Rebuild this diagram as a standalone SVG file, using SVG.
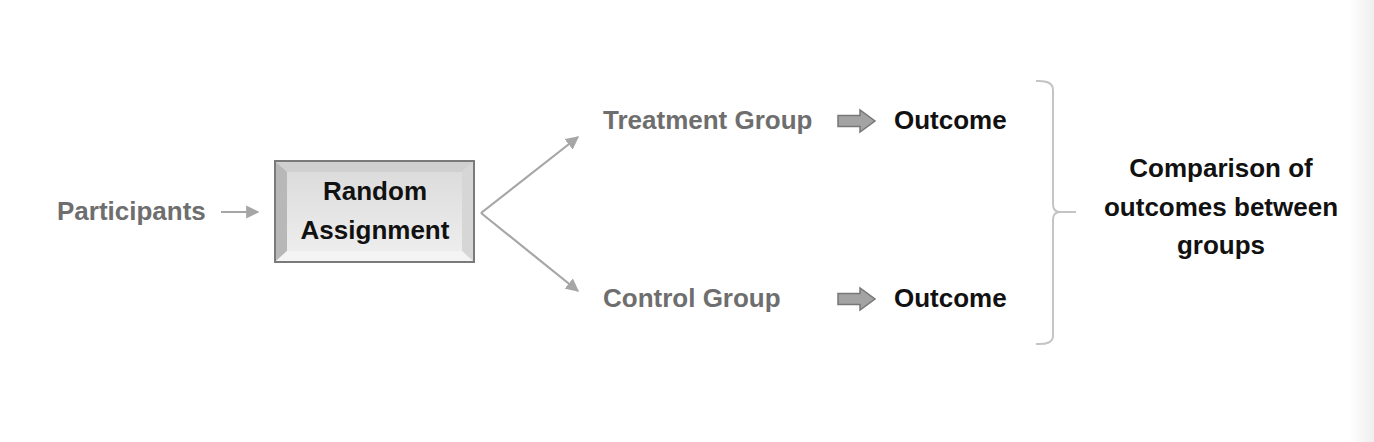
<svg xmlns="http://www.w3.org/2000/svg" width="1374" height="442" viewBox="0 0 1374 442">
<defs>
<style>
.t{font-family:"Liberation Sans",Arial,sans-serif;font-weight:bold;font-size:26px}
.g{fill:#6e6e6e}
.k{fill:#111}
.c{stroke:#a6a6a6;stroke-width:2.2;fill:none}
.blk{fill:#a3a3a3;stroke:#777;stroke-width:1.5}
</style>
<marker id="ah" viewBox="0 0 10 10" refX="9" refY="5" markerWidth="6" markerHeight="6" orient="auto" markerUnits="strokeWidth">
<path d="M0,0 L10,5 L0,10 Z" fill="#a6a6a6"/>
</marker>
<linearGradient id="face" x1="0" y1="0" x2="0" y2="1">
<stop offset="0" stop-color="#dcdcdc"/>
<stop offset="1" stop-color="#ededed"/>
</linearGradient>
<linearGradient id="edge" x1="0" y1="0" x2="1" y2="0">
<stop offset="0" stop-color="#ffffff"/>
<stop offset="1" stop-color="#efefef"/>
</linearGradient>
</defs>
<rect width="1374" height="442" fill="#fff"/>
<rect x="1348" y="0" width="26" height="442" fill="url(#edge)"/>

<g id="participants">
<text class="t g" x="57" y="220">Participants</text>
</g>

<g id="random-assignment">
<rect x="275" y="161" width="199" height="101" fill="#e4e4e4" stroke="#7a7a7a" stroke-width="2"/>
<polygon points="276,162 473,162 462,172 287,172" fill="#d0d0d0"/>
<polygon points="276,162 287,172 287,251 276,261" fill="#b8b8b8"/>
<polygon points="473,162 473,261 462,251 462,172" fill="#d6d6d6"/>
<polygon points="276,261 287,251 462,251 473,261" fill="#f4f4f4"/>
<rect x="287" y="172" width="175" height="79" fill="url(#face)"/>
<text class="t k" x="375" y="200" text-anchor="middle">Random</text>
<text class="t k" x="375" y="239" text-anchor="middle">Assignment</text>
</g>

<g id="treatment-group">
<text class="t g" x="603" y="129">Treatment Group</text>
</g>
<g id="control-group">
<text class="t g" x="603" y="307">Control Group</text>
</g>
<g id="outcome-treatment">
<text class="t k" x="894" y="129">Outcome</text>
</g>
<g id="outcome-control">
<text class="t k" x="894" y="307">Outcome</text>
</g>
<g id="comparison">
<text class="t k" x="1221" y="177" text-anchor="middle">Comparison of</text>
<text class="t k" x="1221" y="216" text-anchor="middle">outcomes between</text>
<text class="t k" x="1221" y="254" text-anchor="middle">groups</text>
</g>

<g id="connectors">
<line class="c" x1="221" y1="212" x2="258" y2="212" marker-end="url(#ah)"/>
<line class="c" x1="481" y1="213" x2="578" y2="137" marker-end="url(#ah)"/>
<line class="c" x1="481" y1="213" x2="578" y2="291" marker-end="url(#ah)"/>
<polygon class="blk" points="838,115.5 860,115.5 860,110 875,121 860,132 860,126.5 838,126.5"/>
<polygon class="blk" points="838,293.5 860,293.5 860,288 875,299 860,310 860,304.5 838,304.5"/>
<path d="M1036,81 Q1053,80 1053,90 L1053,204 Q1053,212 1060,212 L1076,212 M1060,212 Q1053,212 1053,220 L1053,336 Q1053,345 1036,344" fill="none" stroke="#c4c4c4" stroke-width="2"/>
</g>
</svg>
